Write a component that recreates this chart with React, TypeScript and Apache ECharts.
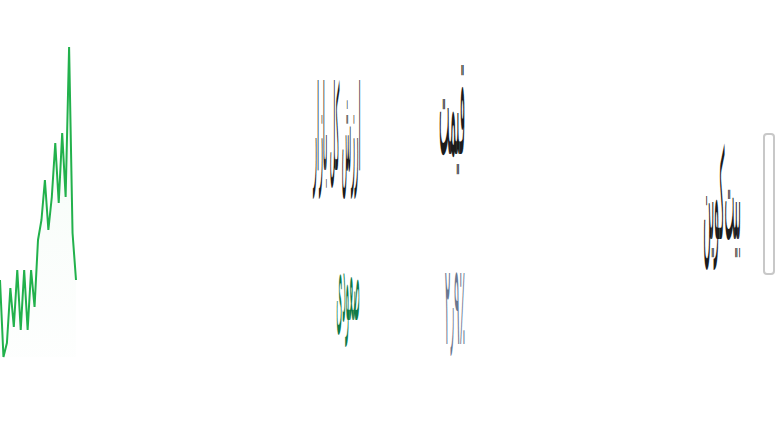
import React, { useEffect, useRef } from "react";
import * as echarts from "echarts";

const days = ["1","2","3","4","5","6","7","8","9","10","11","12","13","14","15","16","17","18","19","20","21","22","23"];
const prices = [90, 13, 27, 82, 43, 100, 40, 100, 40, 100, 63, 130, 150, 190, 140, 173, 227, 167, 237, 173, 323, 137, 90];

const nameLabel = "بیت‌کوین";
const marketCapLabel = "ارزش کل بازار";
const priceLabel = "قیمت";
const changeLabel = "صعودی";
const percentLabel = "۲٫۹٪";

export default function App() {
  const ref = useRef<HTMLDivElement>(null);
  useEffect(() => {
    if (!ref.current) return;
    const chart = echarts.init(ref.current, null, { renderer: "svg" });
    const font = "DejaVu Sans";
    const txt = (text: string, x: number, y: number, sx: number, sy: number, fill: string, size = 14) => ({
      type: "text",
      x,
      y,
      scaleX: sx,
      scaleY: sy,
      style: { text, fill, font: `${size}px "${font}"`, align: "center", verticalAlign: "middle" },
    });
    chart.setOption({
      animation: false,
      backgroundColor: "#ffffff",
      grid: { left: 0, top: 47, width: 76, height: 310, containLabel: false },
      xAxis: { type: "category", data: days, show: false, boundaryGap: false },
      yAxis: { type: "value", min: 13, max: 323, show: false },
      series: [
        {
          type: "line",
          data: prices,
          symbol: "none",
          lineStyle: { color: "#22b14c", width: 2 },
          areaStyle: {
            color: new echarts.graphic.LinearGradient(0, 0, 0, 1, [
              { offset: 0, color: "rgba(34,177,76,0.07)" },
              { offset: 1, color: "rgba(34,177,76,0.01)" },
            ]),
          },
        },
      ],
      graphic: [
        txt(marketCapLabel, 337, 129, 0.55, 8.5, "#1c1c1c"),
        txt(priceLabel, 452, 105, 0.8, 10, "#1c1c1c"),
        txt(changeLabel, 348, 281, 0.55, 8, "#0f7a48"),
        txt(percentLabel, 455, 305, 0.75, 8, "#6a7890"),
        txt(nameLabel, 722, 195, 0.75, 9, "#1c1c1c"),
        {
          type: "rect",
          shape: { x: 764, y: 134, width: 10, height: 140, r: 3 },
          style: { fill: "#ffffff", stroke: "#c8c8c8", lineWidth: 2 },
        },
      ],
    });
    return () => chart.dispose();
  }, []);
  return <div ref={ref} style={{ position: "fixed", left: 0, top: 0, width: 779, height: 439 }} />;
}
